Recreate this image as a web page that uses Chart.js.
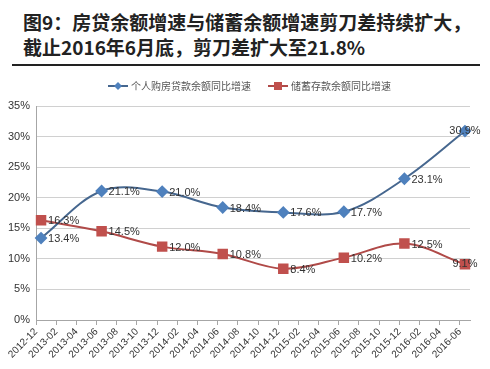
<!DOCTYPE html>
<html>
<head>
<meta charset="utf-8">
<script src="https://cdn.jsdelivr.net/npm/chart.js@4.4.1/dist/chart.umd.min.js"></script>
<style>
	body { margin: 0; background: #fff; }
	#wrap { width: 490px; height: 369px; position: relative; overflow: hidden; }
	#title {
		position: absolute; left: 23px; top: 9px; width: 467px;
		font-family: "Noto Sans CJK SC", sans-serif; font-weight: bold;
		font-size: 19px; line-height: 25px; color: #222; white-space: nowrap;
	}
	#rule { position: absolute; left: 12px; top: 64px; width: 468px; height: 0; border-top: 2px solid #222; }
	#box { position: absolute; left: 0; top: 68px; width: 490px; height: 301px; }
</style>
</head>
<body>
<div id="wrap">
	<div id="title">图9：房贷余额增速与储蓄余额增速剪刀差持续扩大，<br>截止2016年6月底，剪刀差扩大至21.8%</div>
	<div id="rule"></div>
	<div id="box"><canvas id="chart"></canvas></div>
</div>
<script>
// monthly categories, one label every two months
const months = [];
for (let y = 2012; y <= 2016; y++) {
	for (let m = 1; m <= 12; m++) {
		if ((y === 2012 && m < 12) || (y === 2016 && m > 6)) continue;
		months.push(y + '-' + String(m).padStart(2, '0'));
	}
}

// half-year observations
const obsMonths = ['2012-12', '2013-06', '2013-12', '2014-06', '2014-12', '2015-06', '2015-12', '2016-06'];
const loanGrowth = [13.4, 21.1, 21.0, 18.4, 17.6, 17.7, 23.1, 30.9];
const savingGrowth = [16.3, 14.5, 12.0, 10.8, 8.4, 10.2, 12.5, 9.1];
const seriesNames = ['个人购房贷款余额同比增速', '储蓄存款余额同比增速'];

const toPoints = vals => obsMonths.map((m, i) => ({x: m, y: vals[i]}));

// value labels next to each point
const valueLabels = {
	id: 'valueLabels',
	afterDatasetsDraw(chart) {
		const ctx = chart.ctx;
		ctx.save();
		ctx.font = '11px "Liberation Sans", Arial, sans-serif';
		ctx.fillStyle = '#333';
		ctx.textBaseline = 'middle';
		chart.data.datasets.forEach((ds, di) => {
			chart.getDatasetMeta(di).data.forEach((pt, i) => {
				const txt = ds.data[i].y.toFixed(1) + '%';
				if (i === ds.data.length - 1) {
					ctx.textAlign = 'center';
					ctx.fillText(txt, pt.x, pt.y);
				} else {
					ctx.textAlign = 'left';
					ctx.fillText(txt, pt.x + 7, pt.y + 1);
				}
			});
		});
		ctx.restore();
	}
};

// excel style legend: line with marker, then the name
const lineLegend = {
	id: 'lineLegend',
	afterDraw(chart) {
		const ctx = chart.ctx;
		const starts = [108, 268];
		ctx.save();
		ctx.font = '10px "Noto Sans CJK SC", sans-serif';
		ctx.textBaseline = 'middle';
		ctx.textAlign = 'left';
		chart.data.datasets.forEach((ds, di) => {
			const x = starts[di], y = 18;
			ctx.strokeStyle = ds.borderColor;
			ctx.lineWidth = 2;
			ctx.beginPath();
			ctx.moveTo(x, y);
			ctx.lineTo(x + 20, y);
			ctx.stroke();
			ctx.fillStyle = ds.pointBackgroundColor;
			if (ds.pointStyle === 'rectRot') {
				ctx.beginPath();
				ctx.moveTo(x + 10, y - 4);
				ctx.lineTo(x + 14, y);
				ctx.lineTo(x + 10, y + 4);
				ctx.lineTo(x + 6, y);
				ctx.closePath();
				ctx.fill();
			} else {
				ctx.fillRect(x + 6, y - 4, 8, 8);
			}
			ctx.fillStyle = '#555';
			ctx.fillText(ds.label, x + 23, y);
		});
		ctx.restore();
	}
};

new Chart(document.getElementById('chart'), {
	type: 'line',
	data: {
		labels: months,
		datasets: [
			{
				label: seriesNames[0],
				data: toPoints(loanGrowth),
				borderColor: '#46678f',
				borderWidth: 2,
				pointStyle: 'rectRot',
				pointRadius: 5,
				pointBackgroundColor: '#4f81bd',
				pointBorderColor: '#4f81bd',
				tension: 0.35
			},
			{
				label: seriesNames[1],
				data: toPoints(savingGrowth),
				borderColor: '#b04a48',
				borderWidth: 2,
				pointStyle: 'rect',
				pointRadius: 6,
				pointBackgroundColor: '#c0504d',
				pointBorderColor: '#c0504d',
				tension: 0.35
			}
		]
	},
	options: {
		responsive: true,
		maintainAspectRatio: false,
		animation: false,
		layout: {padding: {top: 38, right: 20, left: 0, bottom: 0}},
		plugins: {
			legend: {display: false},
			tooltip: {enabled: false}
		},
		scales: {
			x: {
				type: 'category',
				offset: true,
				afterFit: s => { s.height = 49; },
				border: {color: '#a6a6a6'},
				grid: {
					drawOnChartArea: false,
					offset: true,
					tickLength: 5,
					tickColor: c => (c.index % 2 === 0 ? '#a6a6a6' : 'rgba(0,0,0,0)')
				},
				ticks: {
					autoSkip: false,
					minRotation: 45,
					maxRotation: 45,
					labelOffset: -5,
					padding: 1,
					color: '#333',
					font: {family: '"Liberation Sans", Arial, sans-serif', size: 10},
					callback: (v, i) => (i % 2 === 0 ? months[i] : '')
				}
			},
			y: {
				min: 0,
				max: 35,
				afterFit: s => { s.width = 36; },
				border: {color: '#a6a6a6'},
				grid: {color: '#d0d0d0', drawTicks: false},
				ticks: {
					stepSize: 5,
					padding: 6,
					color: '#333',
					font: {family: '"Liberation Sans", Arial, sans-serif', size: 11},
					callback: v => v + '%'
				}
			}
		}
	},
	plugins: [valueLabels, lineLegend]
});
</script>
</body>
</html>
